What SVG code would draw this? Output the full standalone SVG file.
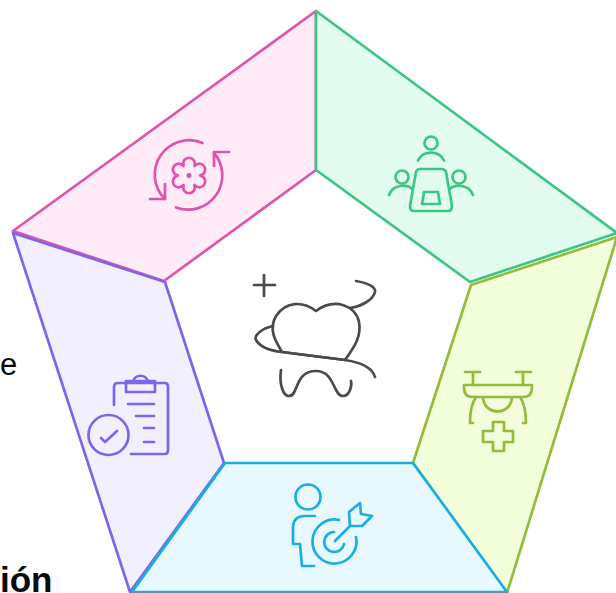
<svg xmlns="http://www.w3.org/2000/svg" width="616" height="593" viewBox="0 0 616 593">
<style>
.seg{stroke-width:2.7;stroke-linejoin:round}
.ic{fill:none;stroke-width:2.7;stroke-linecap:round;stroke-linejoin:round}
.t{font-family:"Liberation Sans",Arial,sans-serif;fill:#0a0a0a}
</style>
<rect width="616" height="593" fill="#fff"/>
<g id="connectors"/>
<g id="segment-pink">
<polygon class="seg" points="316,11 316,170 164,281 13,231" fill="#ffecf8" stroke="#e052ad"/>
<g class="ic" stroke="#e052ad">
<path d="M202.500,143A34.300,34.300 0 0 0 165,199"/>
<path d="M150,199H165V184"/>
<path d="M176,207.500A34.300,34.300 0 0 0 214,153"/>
<path d="M229,152H214V166"/>
<path d="M183.500,166C181,155 197,155 194.500,166C202.750,158.320 210.750,172.180 200,175.500C210.750,178.820 202.750,192.680 194.500,185C197,196 181,196 183.500,185C175.250,192.680 167.250,178.820 178,175.500C167.250,172.180 175.250,158.320 183.500,166Z"/>
</g>
<circle cx="189" cy="175.500" r="2.500" fill="#e052ad"/>
</g>
<g id="segment-green">
<polygon class="seg" points="316,11 617,233 470,282 316,170" fill="#e2fdf0" stroke="#3cc583"/>
<g class="ic" stroke="#3cc583">
<circle cx="431" cy="143" r="6.500"/>
<path d="M418,160.500C423,150 439,150 444,160.500"/>
<circle cx="402" cy="177" r="6.500"/>
<path d="M389,195C393,184 407,184 412,189"/>
<circle cx="459" cy="177" r="6.500"/>
<path d="M473,195C469,184 455,184 450,189"/>
<path d="M420,169H442Q445,169 446,172L452,206Q452,211 448,211H414Q410,211 410,206L416,172Q417,169 420,169Z"/>
<path d="M424,192H438L440,204H422Z"/>
</g>
</g>
<g id="segment-lime">
<polygon class="seg" points="617,237 507,593 413,463 471,285" fill="#f3fedb" stroke="#92bd39"/>
<g class="ic" stroke="#92bd39">
<path d="M465,372H480M473,372V385"/>
<path d="M516,372H531M523,372V385"/>
<path d="M464,385H532V388Q532,397 523,397H473Q464,397 464,388Z"/>
<path d="M476,397C471,404 470,412 470,423H473"/>
<path d="M520,397C525,404 526,412 526,423H523"/>
<path d="M483,398C485,416 510,416 512,398"/>
<path d="M493,422H504V431H513V442H504V451H493V442H483V431H493Z"/>
</g>
</g>
<g id="segment-purple">
<polygon class="seg" points="13,233 165,282 224,463 130,592" fill="#f2f0ff" stroke="#7d66e8"/>
<g class="ic" stroke="#7d66e8">
<path d="M114,405V387Q114,383 118,383H165Q168,383 168,387V450Q168,454 165,454H131"/>
<path d="M126,381H155V392H126Z"/>
<path d="M133,381C136,374 145,374 148,381"/>
<path d="M128,404H154M136,416H154M144,428H154M144,442H154"/>
<circle cx="108.500" cy="435" r="20"/>
<path d="M101,438L105,442L117,431"/>
</g>
</g>
<g id="segment-blue">
<polygon class="seg" points="225,463 413,463 507,592 132,592" fill="#e7f8ff" stroke="#1aaee0"/>
<g class="ic" stroke="#1aaee0">
<circle cx="308" cy="497" r="12.500"/>
<path d="M315,516H305Q293,516 293,528V544H300L302,566H314"/>
<path d="M339,520A22,22 0 1 0 356,537"/>
<path d="M334,532A10,10 0 1 0 344,544"/>
<path d="M335,541L350,526"/>
<path d="M350,526L349,512L360,503L361,514L372,516L362,526Z"/>
</g>
</g>
<g id="center">
<g class="ic" stroke="#4a4a4a">
<path d="M254,285H275M264,275V296"/>
<path d="M316,311C303,301 286,301 276,316C268,330 276,342 282,352L345,360C352,350 362,338 359,322C356,306 335,297 316,311Z"/>
<path d="M273,326C260,329 254,336 256,340C261,349 273,351 282,352L345,360C358,362 372,366 375,377"/>
<path d="M356,281C368,283 376,287 375,292C373,300 362,306 350,308"/>
<path d="M281,370C279,384 283,396 289,396C299,396 294,371 316,371C335,371 333,396 343,396C350,396 352,385 351,381"/>
</g>
</g>
<g id="labels">
<text class="t" x="0" y="375" font-size="31">e</text>
<text class="t" x="0" y="592" font-size="35" font-weight="700">ión</text>
</g>
</svg>
